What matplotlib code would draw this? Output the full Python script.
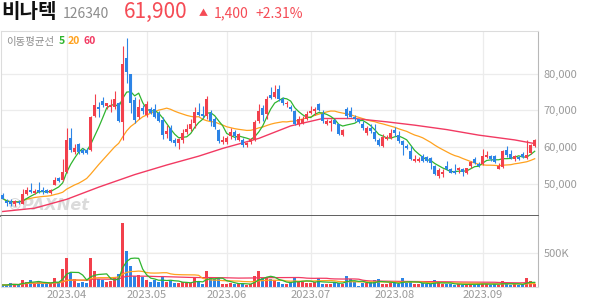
import numpy as np
import pandas as pd
import matplotlib
matplotlib.use('Agg')
import matplotlib.pyplot as plt

plt.rcParams['font.family'] = ['Noto Sans CJK KR', 'DejaVu Sans']

# trading days 2023-03-10 .. 2023-09-20 (KRX holidays removed)
holidays = ['2023-05-01', '2023-05-05', '2023-05-29', '2023-06-06', '2023-08-15']
dates = pd.bdate_range('2023-03-10', '2023-09-20')
dates = dates[~dates.isin(pd.to_datetime(holidays))]

opens = [47200, 45400, 45400, 44700, 45300, 44600, 47400, 48500, 47600, 48500,
         48500, 48300, 47600, 49900, 51600, 51200, 53200, 62400, 58800, 60800,
         59200, 59200, 59400, 68500, 71000, 72500, 71300, 71000, 70800, 72000,
         66900, 84100, 79900, 72800, 68200, 70700, 68700, 70500, 70500, 69400,
         67300, 63600, 65300, 61900, 61300, 61900, 64100, 64900, 66700, 69600,
         69000, 68500, 69200, 67800, 64700, 61400, 61400, 63000, 64200, 62100,
         62100, 60500, 61400, 62100, 67100, 70700, 68900, 74200, 73700, 75700,
         73000, 71600, 70900, 69800, 66200, 66700, 67800, 69400, 69800, 71800,
         69100, 66400, 66700, 67300, 66200, 63300, 70300, 69800, 68200, 67600,
         66400, 63900, 65300, 64100, 62100, 60400, 62200, 62600, 64600, 63200,
         61700, 60400, 59000, 56300, 56300, 57600, 57300, 57200, 54900, 52200,
         52700, 55000, 54000, 53600, 53800, 54200, 53100, 54900, 56700, 55600,
         55400, 57400, 57600, 57600, 54200, 54600, 59400, 58300, 56700, 57400,
         58300, 57000, 58500, 60400]
highs = [47500, 46000, 46000, 45700, 45600, 48700, 49200, 50300, 48700, 50500,
         49200, 48600, 48700, 51900, 51900, 56800, 65300, 65300, 61000, 61300,
         59700, 59700, 68500, 74500, 72300, 73600, 72100, 73000, 75200, 72400,
         87400, 89700, 79900, 73500, 73200, 71500, 72500, 71000, 71800, 69800,
         68200, 66000, 66000, 62600, 62600, 64900, 66200, 67600, 71000, 72100,
         71200, 73900, 70000, 68200, 65000, 63100, 63000, 65300, 64600, 64000,
         62500, 61500, 62600, 67300, 71800, 71500, 73900, 76300, 76900, 76900,
         73600, 72500, 71400, 70000, 68500, 68500, 69800, 71100, 70900, 72100,
         70000, 67800, 67600, 67600, 66400, 65000, 70800, 70900, 68700, 67800,
         67100, 65700, 66200, 66200, 62600, 63500, 63300, 64900, 65500, 64400,
         62100, 60800, 60400, 57900, 57400, 58200, 57600, 57500, 55200, 54300,
         54200, 56400, 54400, 55600, 54600, 54400, 54500, 56300, 57400, 56100,
         59500, 59000, 57900, 57800, 55800, 59400, 60300, 59200, 58000, 57700,
         58800, 62100, 60900, 62300]
lows = [45900, 44200, 44100, 44200, 44500, 44500, 47200, 47500, 47300, 47600,
        47400, 47500, 47400, 49700, 50600, 51000, 53000, 58600, 58300, 58200,
        58100, 58100, 59000, 68200, 68200, 70800, 70300, 69500, 70500, 66800,
        61900, 77500, 69300, 66500, 67800, 69000, 68300, 69000, 67900, 66800,
        62200, 62500, 61400, 60400, 59600, 61300, 63600, 64500, 65300, 68500,
        68000, 67800, 65800, 65000, 61200, 61000, 61000, 62300, 62100, 61800,
        60200, 60200, 61000, 61800, 66600, 67000, 67600, 73000, 73400, 72500,
        71500, 70900, 69800, 66000, 65700, 66200, 67300, 68900, 68700, 69800,
        66600, 66100, 64400, 66200, 63200, 63000, 67900, 68200, 67000, 66600,
        64800, 63300, 63900, 61700, 60400, 60200, 61900, 62200, 63000, 61300,
        57900, 59600, 56500, 56000, 56100, 56100, 56000, 54200, 52600, 51600,
        51900, 53800, 52900, 52700, 53100, 52200, 52800, 54500, 55500, 54700,
        55200, 57000, 56200, 55800, 54000, 54400, 57400, 56800, 56400, 56600,
        57200, 56800, 58200, 60200]
closes = [46100, 44900, 44700, 45400, 44800, 47400, 48300, 47800, 48200, 47900,
          47900, 47700, 48500, 51200, 51000, 53400, 62100, 59200, 59900, 58800,
          58500, 58500, 68200, 71400, 70500, 71400, 71900, 71500, 73000, 67100,
          82700, 80500, 72100, 67300, 70800, 69800, 71800, 69300, 68200, 67100,
          63300, 64300, 61700, 61300, 62300, 64000, 64900, 66200, 69600, 68800,
          68500, 73000, 67000, 65500, 61700, 62000, 62600, 64200, 63000, 63500,
          60500, 61200, 62300, 66900, 69800, 68700, 73000, 73400, 75100, 73000,
          72100, 72100, 70300, 66200, 67600, 67800, 68900, 69800, 70500, 70100,
          67100, 67100, 67100, 66400, 63500, 64700, 68500, 68300, 67600, 66900,
          65100, 65300, 64400, 62200, 60600, 62800, 62800, 64000, 64000, 61700,
          60500, 59900, 56700, 56900, 56900, 56300, 56300, 55800, 52800, 53800,
          53300, 54000, 53100, 52900, 54300, 53400, 54300, 56000, 55800, 54900,
          57600, 57900, 56700, 56000, 54900, 59100, 57900, 57000, 57600, 56900,
          57400, 57900, 60500, 61900]
volumes_k = [29, 29, 52, 38, 29, 105, 76, 95, 62, 67,
             48, 52, 62, 124, 62, 267, 420, 200, 115, 55,
             80, 58, 430, 235, 110, 105, 76, 86, 130, 190,
             930, 520, 308, 158, 172, 146, 100, 70, 98, 76,
             157, 70, 90, 60, 55, 76, 55, 60, 133, 76,
             48, 228, 124, 120, 125, 40, 50, 60, 38, 60,
             40, 30, 45, 157, 238, 124, 152, 110, 95, 76,
             38, 38, 76, 152, 76, 76, 62, 62, 76, 124,
             48, 48, 48, 76, 62, 48, 157, 110, 80, 14,
             62, 62, 76, 95, 110, 48, 38, 62, 62, 48,
             133, 62, 76, 48, 38, 62, 48, 38, 95, 62,
             50, 45, 40, 35, 40, 35, 40, 45, 35, 40,
             55, 40, 35, 40, 35, 86, 40, 35, 40, 35,
             40, 133, 86, 45]

# 60-day average at these trading-day numbers
ma60_day = [0, 8, 16, 24, 33, 41, 49, 55, 64, 72, 78, 80, 88, 96, 103, 111, 119, 128, 133]
ma60_val = [42600, 43500, 45900, 49200, 52600, 55200, 57600, 59700, 62400, 65800,
            67300, 67800, 67800, 66900, 66000, 64800, 63300, 62000, 61000]

RED = '#f2404c'
BLUE = '#2c84e6'
C5, C20, C60 = '#2fb52f', '#ffa21f', '#f23a62'

o = np.array(opens)
c = np.array(closes)
h = np.array(highs)
l = np.array(lows)
vol = np.array(volumes_k) * 1000
x = np.arange(len(dates))
up = c >= o
cols = np.where(up, RED, BLUE)

W, H = 594, 304
fig = plt.figure(figsize=(W / 100, H / 100), dpi=100)


def box(x0, y0, x1, y1):
    return [x0 / W, 1 - y1 / H, (x1 - x0) / W, (y1 - y0) / H]


ax = fig.add_axes(box(1, 31, 537.7, 216))
axv = fig.add_axes(box(1, 216, 537.7, 287))

month_idx = [i for i in range(1, len(dates)) if dates[i].month != dates[i - 1].month]
month_lbl = [dates[i].strftime('%Y.%m') for i in month_idx]

# price panel
ma5 = pd.Series(c).rolling(5, min_periods=1).mean()
ma20 = pd.Series(c).rolling(20, min_periods=1).mean()
ax.plot(x, ma20, color=C20, lw=0.9, zorder=2)
ax.plot(ma60_day, ma60_val, color=C60, lw=1.0, zorder=2)
ax.plot(x, ma5, color=C5, lw=0.9, zorder=2)

body_lo = np.minimum(o, c)
body_h = np.maximum(np.abs(c - o), 150)
ax.vlines(x, l, h, colors=cols, lw=0.8, zorder=3)
ax.bar(x, body_h, bottom=body_lo, width=0.7, color=cols, linewidth=0, zorder=4)

ax.set_xlim(-0.425, 133.75)
ax.set_ylim(41380, 91520)
yt = [50000, 60000, 70000, 80000]
ax.set_yticks(yt)
ax.set_yticklabels([f'{v:,}' for v in yt])
ax.yaxis.tick_right()
ax.tick_params(axis='y', length=0, pad=4, labelsize=8, labelcolor='#9a9a9a')
ax.set_xticks(month_idx)
ax.tick_params(axis='x', length=0, labelbottom=False)
ax.grid(True, color='#ececec', lw=0.9)
ax.set_axisbelow(True)
for s in ['top', 'left']:
    ax.spines[s].set_color('#dcdcdc')
ax.spines['right'].set_color('#b8b8b8')
ax.spines['bottom'].set_color('#444444')
ax.spines['bottom'].set_linewidth(1.2)

ax.text(1.0, 43000, '©PAXNet', fontsize=11.5, fontweight='bold', style='italic',
        color='#cccccc', alpha=0.7, family='DejaVu Sans', zorder=1)

# volume panel
vs = pd.Series(vol)
axv.bar(x, vol, width=0.7, color=cols, linewidth=0, zorder=2)
axv.plot(x, vs.rolling(60, min_periods=1).mean(), color=C60, lw=0.9, zorder=3)
axv.plot(x, vs.rolling(20, min_periods=1).mean(), color=C20, lw=0.9, zorder=3)
axv.plot(x, vs.rolling(5, min_periods=1).mean(), color=C5, lw=0.9, zorder=3)
axv.set_xlim(-0.425, 133.75)
axv.set_ylim(0, 1035000)
axv.set_yticks([500000])
axv.set_yticklabels(['500K'])
axv.yaxis.tick_right()
axv.tick_params(axis='y', length=0, pad=4, labelsize=8, labelcolor='#9a9a9a')
axv.set_xticks(month_idx)
axv.set_xticklabels(month_lbl)
axv.tick_params(axis='x', length=0, pad=2, labelsize=8, labelcolor='#9a9a9a')
axv.grid(True, color='#ececec', lw=0.9)
axv.set_axisbelow(True)
axv.spines['top'].set_visible(False)
axv.spines['left'].set_color('#dcdcdc')
axv.spines['bottom'].set_color('#dcdcdc')
axv.spines['right'].set_color('#b8b8b8')

# header
last, prev = closes[-1], closes[-2]
chg = last - prev
fig.text(1 / W, 1 - 17.5 / H, '비나텍', fontsize=14.5, fontweight='bold', color='#111111')
fig.text(63 / W, 1 - 17.5 / H, '126340', fontsize=10, color='#8c8c8c')
fig.text(124 / W, 1 - 17.5 / H, f'{last:,}', fontsize=15, color='#f54b55')
fig.text(199 / W, 1 - 16 / H, '▲', fontsize=6.5, color='#f54b55')
fig.text(214 / W, 1 - 17.5 / H, f'{chg:,}', fontsize=10, color='#f54b55')
fig.text(255 / W, 1 - 17.5 / H, f'+{chg / prev * 100:.2f}%', fontsize=10, color='#f54b55')

fig.text(6 / W, 1 - 44.5 / H, '이동평균선', fontsize=7.5, color='#8c8c8c')
fig.text(59 / W, 1 - 44.5 / H, '5', fontsize=7.5, fontweight='bold', color=C5)
fig.text(68 / W, 1 - 44.5 / H, '20', fontsize=7.5, fontweight='bold', color=C20)
fig.text(83 / W, 1 - 44.5 / H, '60', fontsize=7.5, fontweight='bold', color=C60)

fig.savefig('out.png', dpi=100)
